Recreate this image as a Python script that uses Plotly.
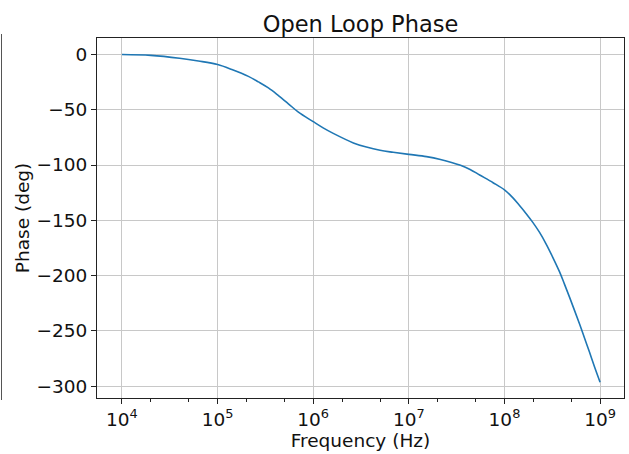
import plotly.graph_objects as go

# Open-loop phase response samples
freq_hz = [1e4, 2e4, 4e4, 6.3e4, 1e5, 1.41e5, 2.1e5, 2.67e5, 3.4e5, 4.3e5, 5.5e5,
           7e5, 1e6, 1.27e6, 1.62e6, 2.63e6, 3.6e6, 5e6, 6.85e6, 1e7, 1.53e7,
           2.14e7, 3.47e7, 4.37e7, 5.5e7, 7.6e7, 1e8, 1.22e8, 1.43e8, 1.68e8,
           1.97e8, 2.32e8, 2.72e8, 3.2e8, 3.76e8, 4.24e8, 4.79e8, 5.4e8, 6.1e8,
           6.87e8, 7.76e8, 8.7e8, 1e9]
phase_deg = [0.0, -0.8, -3.4, -5.9, -9.1, -13.6, -19.8, -24.8, -30.3, -37.0, -44.6,
             -52.2, -60.8, -66.4, -71.4, -80.0, -83.8, -86.7, -88.5, -90.4, -92.4,
             -95.0, -100.3, -104.0, -109.0, -116.0, -122.5, -129.5, -136.4, -143.8,
             -151.7, -160.8, -171.3, -183.5, -196.5, -207.8, -219.5, -231.5, -243.8,
             -256.5, -269.5, -282.0, -296.5]

x_tick_exp = [4, 5, 6, 7, 8, 9]
x_tick_text = ["10<sup>%d</sup>" % e for e in x_tick_exp]
y_tick_vals = [0, -50, -100, -150, -200, -250, -300]

FONT = "DejaVu Sans"
W, H = 629, 454
L, R, T, B = 97, 5, 38, 56

fig = go.Figure()
fig.add_trace(go.Scatter(
    x=freq_hz, y=phase_deg, mode="lines",
    line=dict(color="#1f77b4", width=1.6, shape="spline", smoothing=1.0),
    showlegend=False,
))

axis_common = dict(
    showline=True, linecolor="#222222", linewidth=1, mirror=True,
    showgrid=True, gridcolor="#c8c8c8", gridwidth=1,
    ticks="outside", ticklen=5, tickcolor="#222222", tickwidth=1,
    zeroline=False,
    tickfont=dict(family=FONT, size=18.5, color="#111111"),
)

fig.update_xaxes(
    type="log", range=[3.739, 9.25],
    tickvals=[10 ** e for e in x_tick_exp], ticktext=x_tick_text,
    minor=dict(ticks="outside", ticklen=2.5, tickcolor="#222222", showgrid=False),
    title=dict(text="Frequency (Hz)", font=dict(family=FONT, size=18.5, color="#111111"),
               standoff=2),
    **axis_common,
)
fig.update_yaxes(
    range=[-310.8, 14.9],
    tickvals=y_tick_vals,
    title=dict(text="Phase (deg)", font=dict(family=FONT, size=18.5, color="#111111"),
               standoff=2),
    **axis_common,
)

# thin frame edge on the far left
plot_w = W - L - R
plot_h = H - T - B
fig.add_shape(type="line", xref="paper", yref="paper",
              x0=(1.5 - L) / plot_w, x1=(1.5 - L) / plot_w,
              y0=(H - B - 400) / plot_h, y1=(H - B - 34) / plot_h,
              line=dict(color="#555555", width=1))

fig.update_layout(
    width=W, height=H,
    margin=dict(l=L, r=R, t=T, b=B, autoexpand=False),
    paper_bgcolor="white", plot_bgcolor="white",
    title=dict(text="Open Loop Phase", x=(L + plot_w / 2) / W, xanchor="center",
               y=1 - 24 / H, yanchor="middle",
               font=dict(family=FONT, size=22.5, color="#111111")),
)

fig.write_html("out.html")
